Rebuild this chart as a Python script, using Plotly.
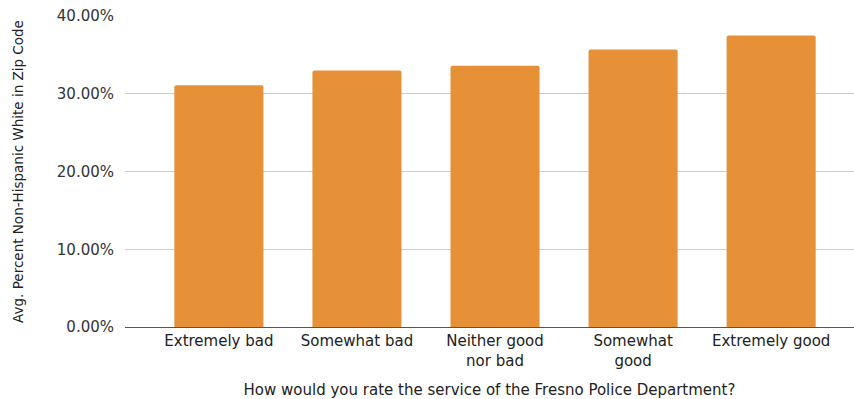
import plotly.graph_objects as go

categories = ["Extremely bad", "Somewhat bad", "Neither good<br>nor bad", "Somewhat<br>good", "Extremely good"]
values = [0.311, 0.330, 0.336, 0.357, 0.375]
y_ticks = [0, 0.1, 0.2, 0.3, 0.4]

FONT = "DejaVu Sans, Liberation Sans, Arial, sans-serif"

fig = go.Figure(go.Bar(
    x=list(range(len(categories))),
    y=values,
    marker=dict(color="#E69138", cornerradius=2, line=dict(width=0)),
    width=0.645,
))

fig.update_layout(
    width=854, height=399,
    margin=dict(l=125, r=0, t=16, b=72),
    plot_bgcolor="white", paper_bgcolor="white",
    font=dict(family=FONT, size=15, color="#333333"),
    showlegend=False,
    xaxis=dict(
        tickmode="array", tickvals=list(range(len(categories))), ticktext=categories,
        range=[-0.68, 4.6], showgrid=False, zeroline=False,
        showline=True, linecolor="#555555", linewidth=1,
        ticks="", tickfont=dict(family=FONT, size=15, color="#222222"),
        title=dict(text="How would you rate the service of the Fresno Police Department?",
                   font=dict(family=FONT, size=15, color="#222222"), standoff=18),
    ),
    yaxis=dict(
        range=[0, 0.4], tickvals=y_ticks, tickformat=".2%",
        showgrid=True, gridcolor="#cccccc", gridwidth=1, zeroline=False,
        ticks="", ticklen=0, tickfont=dict(family=FONT, size=15, color="#333333"),
        ticklabelstandoff=10,
        title=dict(text="Avg. Percent Non-Hispanic White in Zip Code",
                   font=dict(family=FONT, size=13.5, color="#222222"), standoff=30),
    ),
)

fig.write_html("out.html")
